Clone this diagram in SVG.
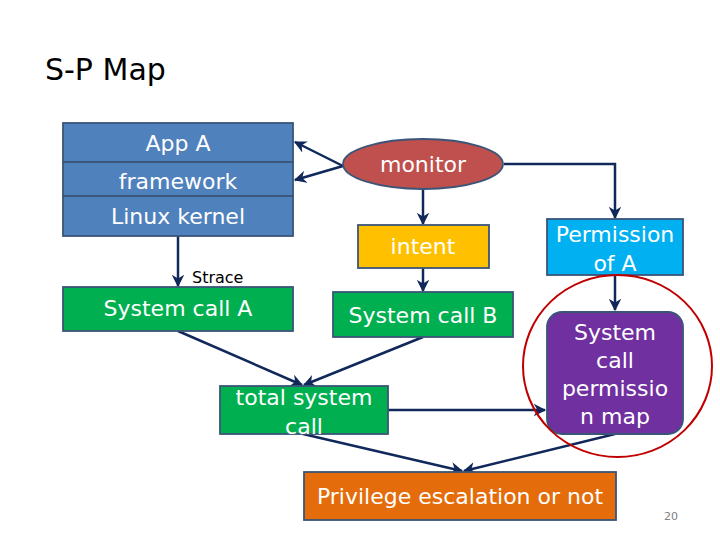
<svg xmlns="http://www.w3.org/2000/svg" width="720" height="540" viewBox="0 0 720 540">
<style>
.box{stroke:#3a5578;stroke-width:1.8}
.t{font-family:"DejaVu Sans","Liberation Sans",Arial,sans-serif;font-size:22px;fill:#ffffff;text-anchor:middle}
.c{fill:none;stroke:#10285a;stroke-width:2.5}
</style>
<defs>
<marker id="ah" viewBox="0 0 10 10" refX="9" refY="5" markerWidth="5" markerHeight="5" orient="auto" markerUnits="strokeWidth">
<path d="M0,0 L10,5 L0,10 L3,5 Z" fill="#10285a"/>
</marker>
</defs>
<rect width="720" height="540" fill="#ffffff"/>
<text x="45" y="80" font-family="DejaVu Sans,Liberation Sans,Arial,sans-serif" font-size="30" fill="#000000">S-P Map</text>

<g id="connectors">
<line class="c" x1="343" y1="166" x2="295" y2="142" marker-end="url(#ah)"/>
<line class="c" x1="343" y1="166" x2="295" y2="180" marker-end="url(#ah)"/>
<line class="c" x1="178" y1="236" x2="178" y2="286" marker-end="url(#ah)"/>
<line class="c" x1="423" y1="190" x2="423" y2="224" marker-end="url(#ah)"/>
<line class="c" x1="423" y1="268" x2="423" y2="291" marker-end="url(#ah)"/>
<polyline class="c" points="504,164 615,164 615,218" marker-end="url(#ah)"/>
<line class="c" x1="615" y1="275" x2="615" y2="310" marker-end="url(#ah)"/>
<line class="c" x1="178" y1="331" x2="302" y2="385" marker-end="url(#ah)"/>
<line class="c" x1="423" y1="337" x2="304" y2="385" marker-end="url(#ah)"/>
<line class="c" x1="388" y1="410" x2="545" y2="410" marker-end="url(#ah)"/>
<line class="c" x1="303" y1="434" x2="462" y2="471" marker-end="url(#ah)"/>
<line class="c" x1="615" y1="434" x2="464" y2="471" marker-end="url(#ah)"/>
</g>

<g id="appA"><rect class="box" x="63" y="123" width="230" height="39" fill="#4f81bd"/><text class="t" x="178" y="151">App A</text></g>
<g id="framework"><rect class="box" x="63" y="162" width="230" height="34" fill="#4f81bd"/><text class="t" x="178" y="189">framework</text></g>
<g id="kernel"><rect class="box" x="63" y="196" width="230" height="40" fill="#4f81bd"/><text class="t" x="178" y="224">Linux kernel</text></g>
<g id="strace"><text x="192" y="283" font-family="DejaVu Sans,Liberation Sans,Arial,sans-serif" font-size="16" fill="#000000">Strace</text></g>
<g id="syscallA"><rect class="box" x="63" y="287" width="230" height="44" fill="#00b050"/><text class="t" x="178" y="316">System call A</text></g>
<g id="monitor"><ellipse class="box" cx="423" cy="164" rx="80" ry="25" fill="#c0504d"/><text class="t" x="423" y="172">monitor</text></g>
<g id="intent"><rect class="box" x="358" y="225" width="131" height="43" fill="#ffc000"/><text class="t" x="423" y="254">intent</text></g>
<g id="syscallB"><rect class="box" x="333" y="292" width="180" height="45" fill="#00b050"/><text class="t" x="423" y="323">System call B</text></g>
<g id="permission"><rect class="box" x="547" y="219" width="136" height="56" fill="#00b0f0"/><text class="t" x="615" y="242">Permission</text><text class="t" x="615" y="271">of A</text></g>
<g id="permmap"><rect class="box" x="547" y="312" width="136" height="122" rx="15" fill="#7030a0"/><text class="t" x="615" y="340">System</text><text class="t" x="615" y="368">call</text><text class="t" x="615" y="396">permissio</text><text class="t" x="615" y="424">n map</text></g>
<g id="highlight"><ellipse cx="617.5" cy="366" rx="94.5" ry="91" fill="none" stroke="#c00000" stroke-width="2"/></g>
<g id="total"><rect class="box" x="220" y="386" width="168" height="48" fill="#00b050"/><text class="t" x="304" y="405">total system</text><text class="t" x="304" y="434">call</text></g>
<g id="privilege"><rect class="box" x="304" y="472" width="312" height="48" fill="#e46c0a"/><text class="t" x="460" y="504">Privilege escalation or not</text></g>
<text x="671" y="520" font-family="DejaVu Sans,Liberation Sans,Arial,sans-serif" font-size="11" fill="#808080" text-anchor="middle">20</text>
</svg>
